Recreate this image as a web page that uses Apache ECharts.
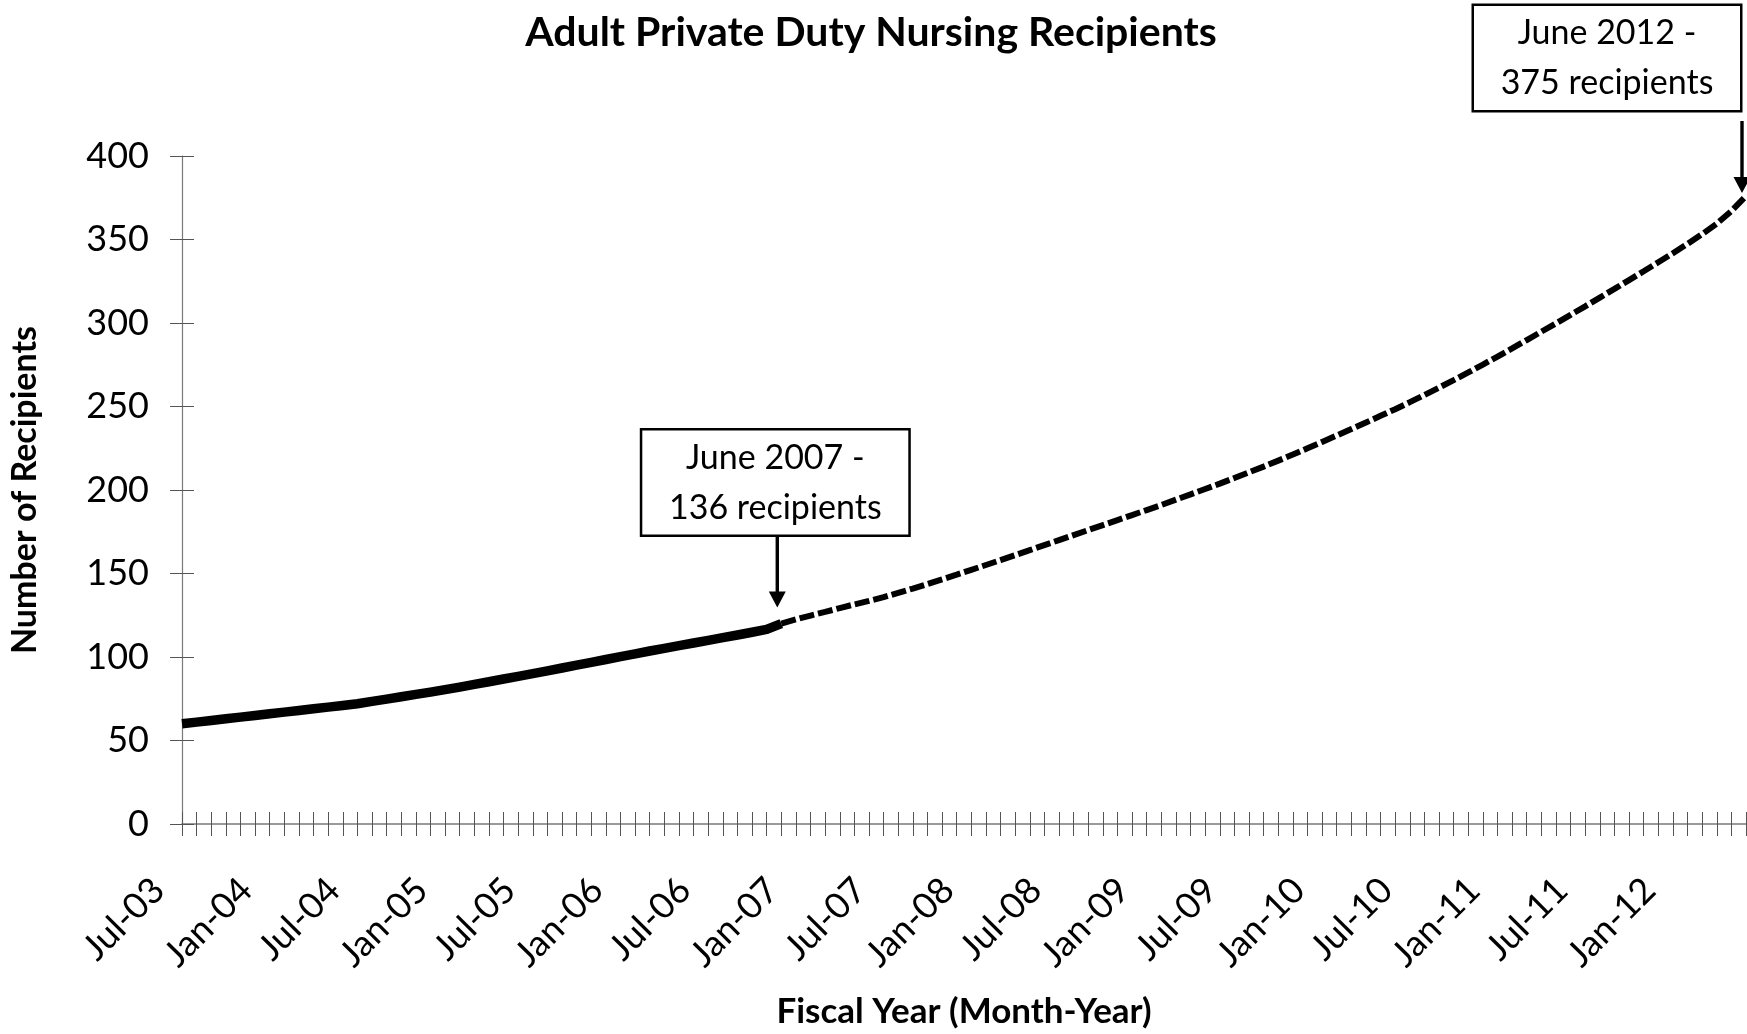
<!DOCTYPE html>
<html>
<head>
<meta charset="utf-8">
<title>Adult Private Duty Nursing Recipients</title>
<script src="https://cdn.jsdelivr.net/npm/echarts@6/dist/echarts.min.js"></script>
<style>
  html, body { margin: 0; padding: 0; background: #fff; }
  #chart { width: 1747px; height: 1034px; }
</style>
</head>
<body>
<div id="chart"></div>
<script>
const monthNames = ['Jan', 'Feb', 'Mar', 'Apr', 'May', 'Jun', 'Jul', 'Aug', 'Sep', 'Oct', 'Nov', 'Dec']

// Jul-03 .. Jun-12, one category per month
const months = []
for (let y = 2003; y <= 2012; y++) {
  for (let m = 0; m < 12; m++) {
    if ((y === 2003 && m < 6) || (y === 2012 && m > 5)) continue
    months.push(monthNames[m] + '-' + String(y).slice(2))
  }
}

// actual recipients, Jul-03 .. Dec-06
const actualRecipients = [
  60, 61, 62, 63, 64, 65, 66, 67, 68, 69, 70, 71,
  72, 73.4, 74.8, 76.2, 77.6, 79, 80.5, 82, 83.6, 85.2, 86.8, 88.4,
  90, 91.7, 93.4, 95.1, 96.8, 98.5, 100.2, 101.9, 103.6, 105.2, 106.8, 108.4,
  110, 111.6, 113.2, 114.8, 116.5, 120
]

// projected recipients, Dec-06 .. Jun-12
const projectedRecipients = [
  120,
  122.5, 124.8, 127, 129.3, 131.5, 133.6,
  135.8, 138.4, 141, 143.7, 146.5, 149.3,
  152.2, 155.1, 158, 161, 164, 167,
  170, 173, 176, 179, 182, 185,
  188, 191, 194.2, 197.4, 200.6, 203.8,
  207.2, 210.6, 214, 217.6, 221.2, 225,
  228.8, 232.6, 236.5, 240.4, 244.4, 248.4,
  252.6, 256.9, 261.3, 265.8, 270.4, 275.1,
  279.9, 284.8, 289.8, 294.8, 299.8, 304.9,
  310, 315.2, 320.4, 325.7, 331, 336.4,
  341.8, 347.4, 353.2, 359.5, 367, 376
]

const yTicks = [0, 50, 100, 150, 200, 250, 300, 350, 400]

// callouts: month they point at and their text
const noteMonths = ['Dec-06', 'Jun-12']
const noteTexts = ['June 2007 -\n136 recipients', 'June 2012 -\n375 recipients']

const FONT = 'Lato'
const splitAt = actualRecipients.length - 1

const solidData = actualRecipients.concat(new Array(months.length - actualRecipients.length).fill('-'))
const dashedData = new Array(splitAt).fill('-').concat(projectedRecipients)

const valueAt = m => {
  const i = months.indexOf(m)
  return i <= splitAt ? actualRecipients[i] : projectedRecipients[i - splitAt]
}

const arrowPath = 'path://M6.8,0 L10.2,0 L10.2,56 L17,56 L8.5,72 L0,56 L6.8,56 Z'

const noteMarks = []
const arrowOffsets = [[-4, -52], [-4, -39]]
const boxOffsets = [[-6, -141], [-139, -138]]
noteMonths.forEach((m, i) => {
  noteMarks.push({
    coord: [m, valueAt(m)],
    symbol: arrowPath,
    symbolSize: [17, 72],
    symbolOffset: arrowOffsets[i],
    itemStyle: { color: '#000' },
    label: { show: false }
  })
  noteMarks.push({
    coord: [m, valueAt(m)],
    symbol: 'rect',
    symbolSize: [2, 2],
    symbolOffset: boxOffsets[i],
    itemStyle: { color: 'rgba(0,0,0,0)', borderWidth: 0 },
    label: {
      show: true,
      position: 'inside',
      formatter: noteTexts[i],
      color: '#000',
      fontFamily: FONT,
      fontSize: 34,
      lineHeight: 50,
      width: 262,
      height: 96,
      align: 'center',
      verticalAlign: 'middle',
      padding: [8, 2, 0, 2],
      backgroundColor: '#fff',
      borderColor: '#000',
      borderWidth: 2.5
    }
  })
})

const chart = echarts.init(document.getElementById('chart'))

const option = {
  animation: false,
  backgroundColor: '#fff',
  title: {
    text: 'Adult Private Duty Nursing Recipients',
    left: 866,
    textAlign: 'center',
    top: 7,
    textStyle: {
      fontFamily: FONT,
      fontWeight: 'bold',
      fontSize: 41,
      color: '#000'
    }
  },
  grid: {
    left: 175,
    right: 1,
    top: 156,
    bottom: 204
  },
  xAxis: [
    {
      type: 'category',
      data: months,
      boundaryGap: false,
      name: 'Fiscal Year (Month-Year)',
      nameLocation: 'middle',
      nameGap: 170,
      nameTextStyle: { fontFamily: FONT, fontWeight: 'bold', fontSize: 35, color: '#000' },
      axisLine: { lineStyle: { color: '#7a7a7a', width: 1.5 } },
      axisTick: { show: true, interval: 0, length: 12, lineStyle: { color: '#555' } },
      axisLabel: {
        interval: 5,
        rotate: 45,
        margin: 37,
        formatter: v => '{a|' + v + '}',
        rich: {
          a: { fontFamily: FONT, fontSize: 36, color: '#000', padding: [0, 33, 0, 0] }
        }
      },
      splitLine: { show: false }
    },
    {
      type: 'category',
      data: months,
      boundaryGap: false,
      position: 'bottom',
      axisLine: { show: false },
      axisTick: { show: true, inside: true, interval: 0, length: 12, lineStyle: { color: '#555' } },
      axisLabel: { show: false },
      splitLine: { show: false }
    }
  ],
  yAxis: [
    {
      type: 'value',
      min: yTicks[0],
      max: yTicks[yTicks.length - 1],
      interval: yTicks[1] - yTicks[0],
      name: 'Number of Recipients',
      nameLocation: 'middle',
      nameGap: 140,
      nameTextStyle: { fontFamily: FONT, fontWeight: 'bold', fontSize: 34, color: '#000' },
      axisLine: { show: true, lineStyle: { color: '#7a7a7a', width: 1.2 } },
      axisTick: { show: true, length: 12, lineStyle: { color: '#555' } },
      axisLabel: { margin: 33, fontFamily: FONT, fontSize: 36, color: '#000' },
      splitLine: { show: false }
    },
    {
      type: 'value',
      min: yTicks[0],
      max: yTicks[yTicks.length - 1],
      interval: yTicks[1] - yTicks[0],
      position: 'left',
      axisLine: { show: false },
      axisTick: { show: true, inside: true, length: 12, lineStyle: { color: '#555' } },
      axisLabel: { show: false },
      splitLine: { show: false }
    }
  ],
  series: [
    {
      name: 'Actual',
      type: 'line',
      data: solidData,
      symbol: 'none',
      lineStyle: { color: '#000', width: 9.5, cap: 'butt', join: 'round' },
      z: 3
    },
    {
      name: 'Projected',
      type: 'line',
      data: dashedData,
      symbol: 'none',
      lineStyle: { color: '#000', width: 6, type: [15, 4], cap: 'butt' },
      markPoint: {
        silent: true,
        data: noteMarks
      },
      z: 2
    }
  ]
}

chart.setOption(option)
</script>
</body>
</html>
